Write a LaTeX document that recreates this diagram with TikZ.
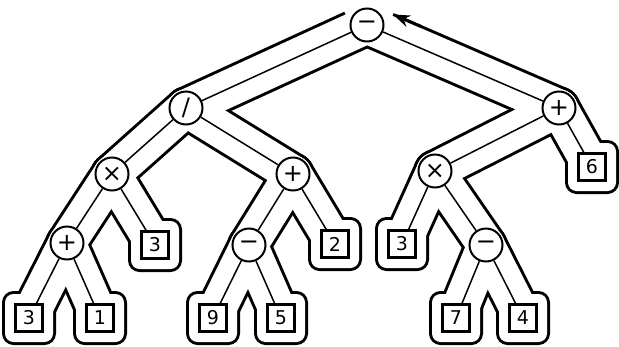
\documentclass[tikz,border=0pt]{standalone}
\usepackage{fontspec}
\setmainfont{DejaVu Sans}
\usetikzlibrary{arrows.meta}
\begin{document}
\begin{tikzpicture}[x=1pt,y=-1pt,
  op/.style={circle,draw,line width=2pt,minimum size=33pt,inner sep=0pt,fill=white,font=\fontsize{24}{24}\selectfont},
  leaf/.style={rectangle,draw,line width=2.2pt,minimum size=27pt,inner sep=0pt,fill=white,font=\fontsize{19}{19}\selectfont},
  edge/.style={line width=1.5pt},
  tourblack/.style={line width=43pt,line cap=round,draw=black},
  tourwhite/.style={line width=37pt,line cap=round,draw=white},
  boxblack/.style={fill=black,rounded corners=11.5pt},
  boxwhite/.style={fill=white,rounded corners=8.5pt},
]
\useasboundingbox (0,0) rectangle (619,346);
% positions
\coordinate (cR) at (367,25);
\coordinate (cDiv) at (186,108);
\coordinate (cPR) at (559,108);
\coordinate (cTL) at (112,174);
\coordinate (cPM) at (293,174);
\coordinate (cSix) at (592,167);
\coordinate (cTR) at (435,171);
\coordinate (cPBL) at (67,243);
\coordinate (cThA) at (155,245);
\coordinate (cMM) at (249,245);
\coordinate (cTwo) at (335,244);
\coordinate (cThR) at (402,244);
\coordinate (cMR) at (486,245);
\coordinate (cThB) at (29,318);
\coordinate (cOne) at (100,318);
\coordinate (cNine) at (213,318);
\coordinate (cFive) at (281,318);
\coordinate (cSeven) at (456,318);
\coordinate (cFour) at (523,318);
% Euler tour outline: black layer
\foreach \a/\b in {cR/cDiv,cR/cPR,cDiv/cTL,cDiv/cPM,cPR/cTR,cPR/cSix,cTL/cPBL,cTL/cThA,cPM/cMM,cPM/cTwo,cTR/cThR,cTR/cMR,cPBL/cThB,cPBL/cOne,cMM/cNine,cMM/cFive,cMR/cSeven,cMR/cFour}
  \draw[tourblack] (\a) -- (\b);
\foreach \c in {cSix,cThA,cTwo,cThR,cThB,cOne,cNine,cFive,cSeven,cFour}
  \fill[boxblack] ([shift={(-27,-27)}]\c) rectangle ([shift={(27,27)}]\c);
% white layer
\foreach \a/\b in {cR/cDiv,cR/cPR,cDiv/cTL,cDiv/cPM,cPR/cTR,cPR/cSix,cTL/cPBL,cTL/cThA,cPM/cMM,cPM/cTwo,cTR/cThR,cTR/cMR,cPBL/cThB,cPBL/cOne,cMM/cNine,cMM/cFive,cMR/cSeven,cMR/cFour}
  \draw[tourwhite] (\a) -- (\b);
\foreach \c in {cSix,cThA,cTwo,cThR,cThB,cOne,cNine,cFive,cSeven,cFour}
  \fill[boxwhite] ([shift={(-24,-24)}]\c) rectangle ([shift={(24,24)}]\c);
% opening above the root
\fill[white] (346.7,16.6) -- (338.7,-0.6) -- (338.7,-12) -- (402,-12) -- (399,0.6) -- (391.4,18.1) -- (cR) -- cycle;
\coordinate (arrTail) at (420.6,26.3);
\coordinate (arrTip) at (393.0,14.4);
\draw[line width=3pt,-{Stealth[length=17pt,width=12pt]}] (arrTail) -- (arrTip);
% tree
\node[op] (root) at (cR) {−};
\node[op] (div) at (cDiv) {/};
\node[op] (pR) at (cPR) {+};
\node[op] (tL) at (cTL) {×};
\node[op] (pM) at (cPM) {+};
\node[leaf] (six) at (cSix) {6};
\node[op] (tR) at (cTR) {×};
\node[op] (pBL) at (cPBL) {+};
\node[leaf] (thA) at (cThA) {3};
\node[op] (mM) at (cMM) {−};
\node[leaf] (two) at (cTwo) {2};
\node[leaf] (thR) at (cThR) {3};
\node[op] (mR) at (cMR) {−};
\node[leaf] (thB) at (cThB) {3};
\node[leaf] (one) at (cOne) {1};
\node[leaf] (nine) at (cNine) {9};
\node[leaf] (five) at (cFive) {5};
\node[leaf] (seven) at (cSeven) {7};
\node[leaf] (four) at (cFour) {4};
\foreach \a/\b in {root/div,root/pR,div/tL,div/pM,pR/tR,pR/six,tL/pBL,tL/thA,pM/mM,pM/two,tR/thR,tR/mR,pBL/thB,pBL/one,mM/nine,mM/five,mR/seven,mR/four}
  \draw[edge] (\a) -- (\b);
\end{tikzpicture}
\end{document}
